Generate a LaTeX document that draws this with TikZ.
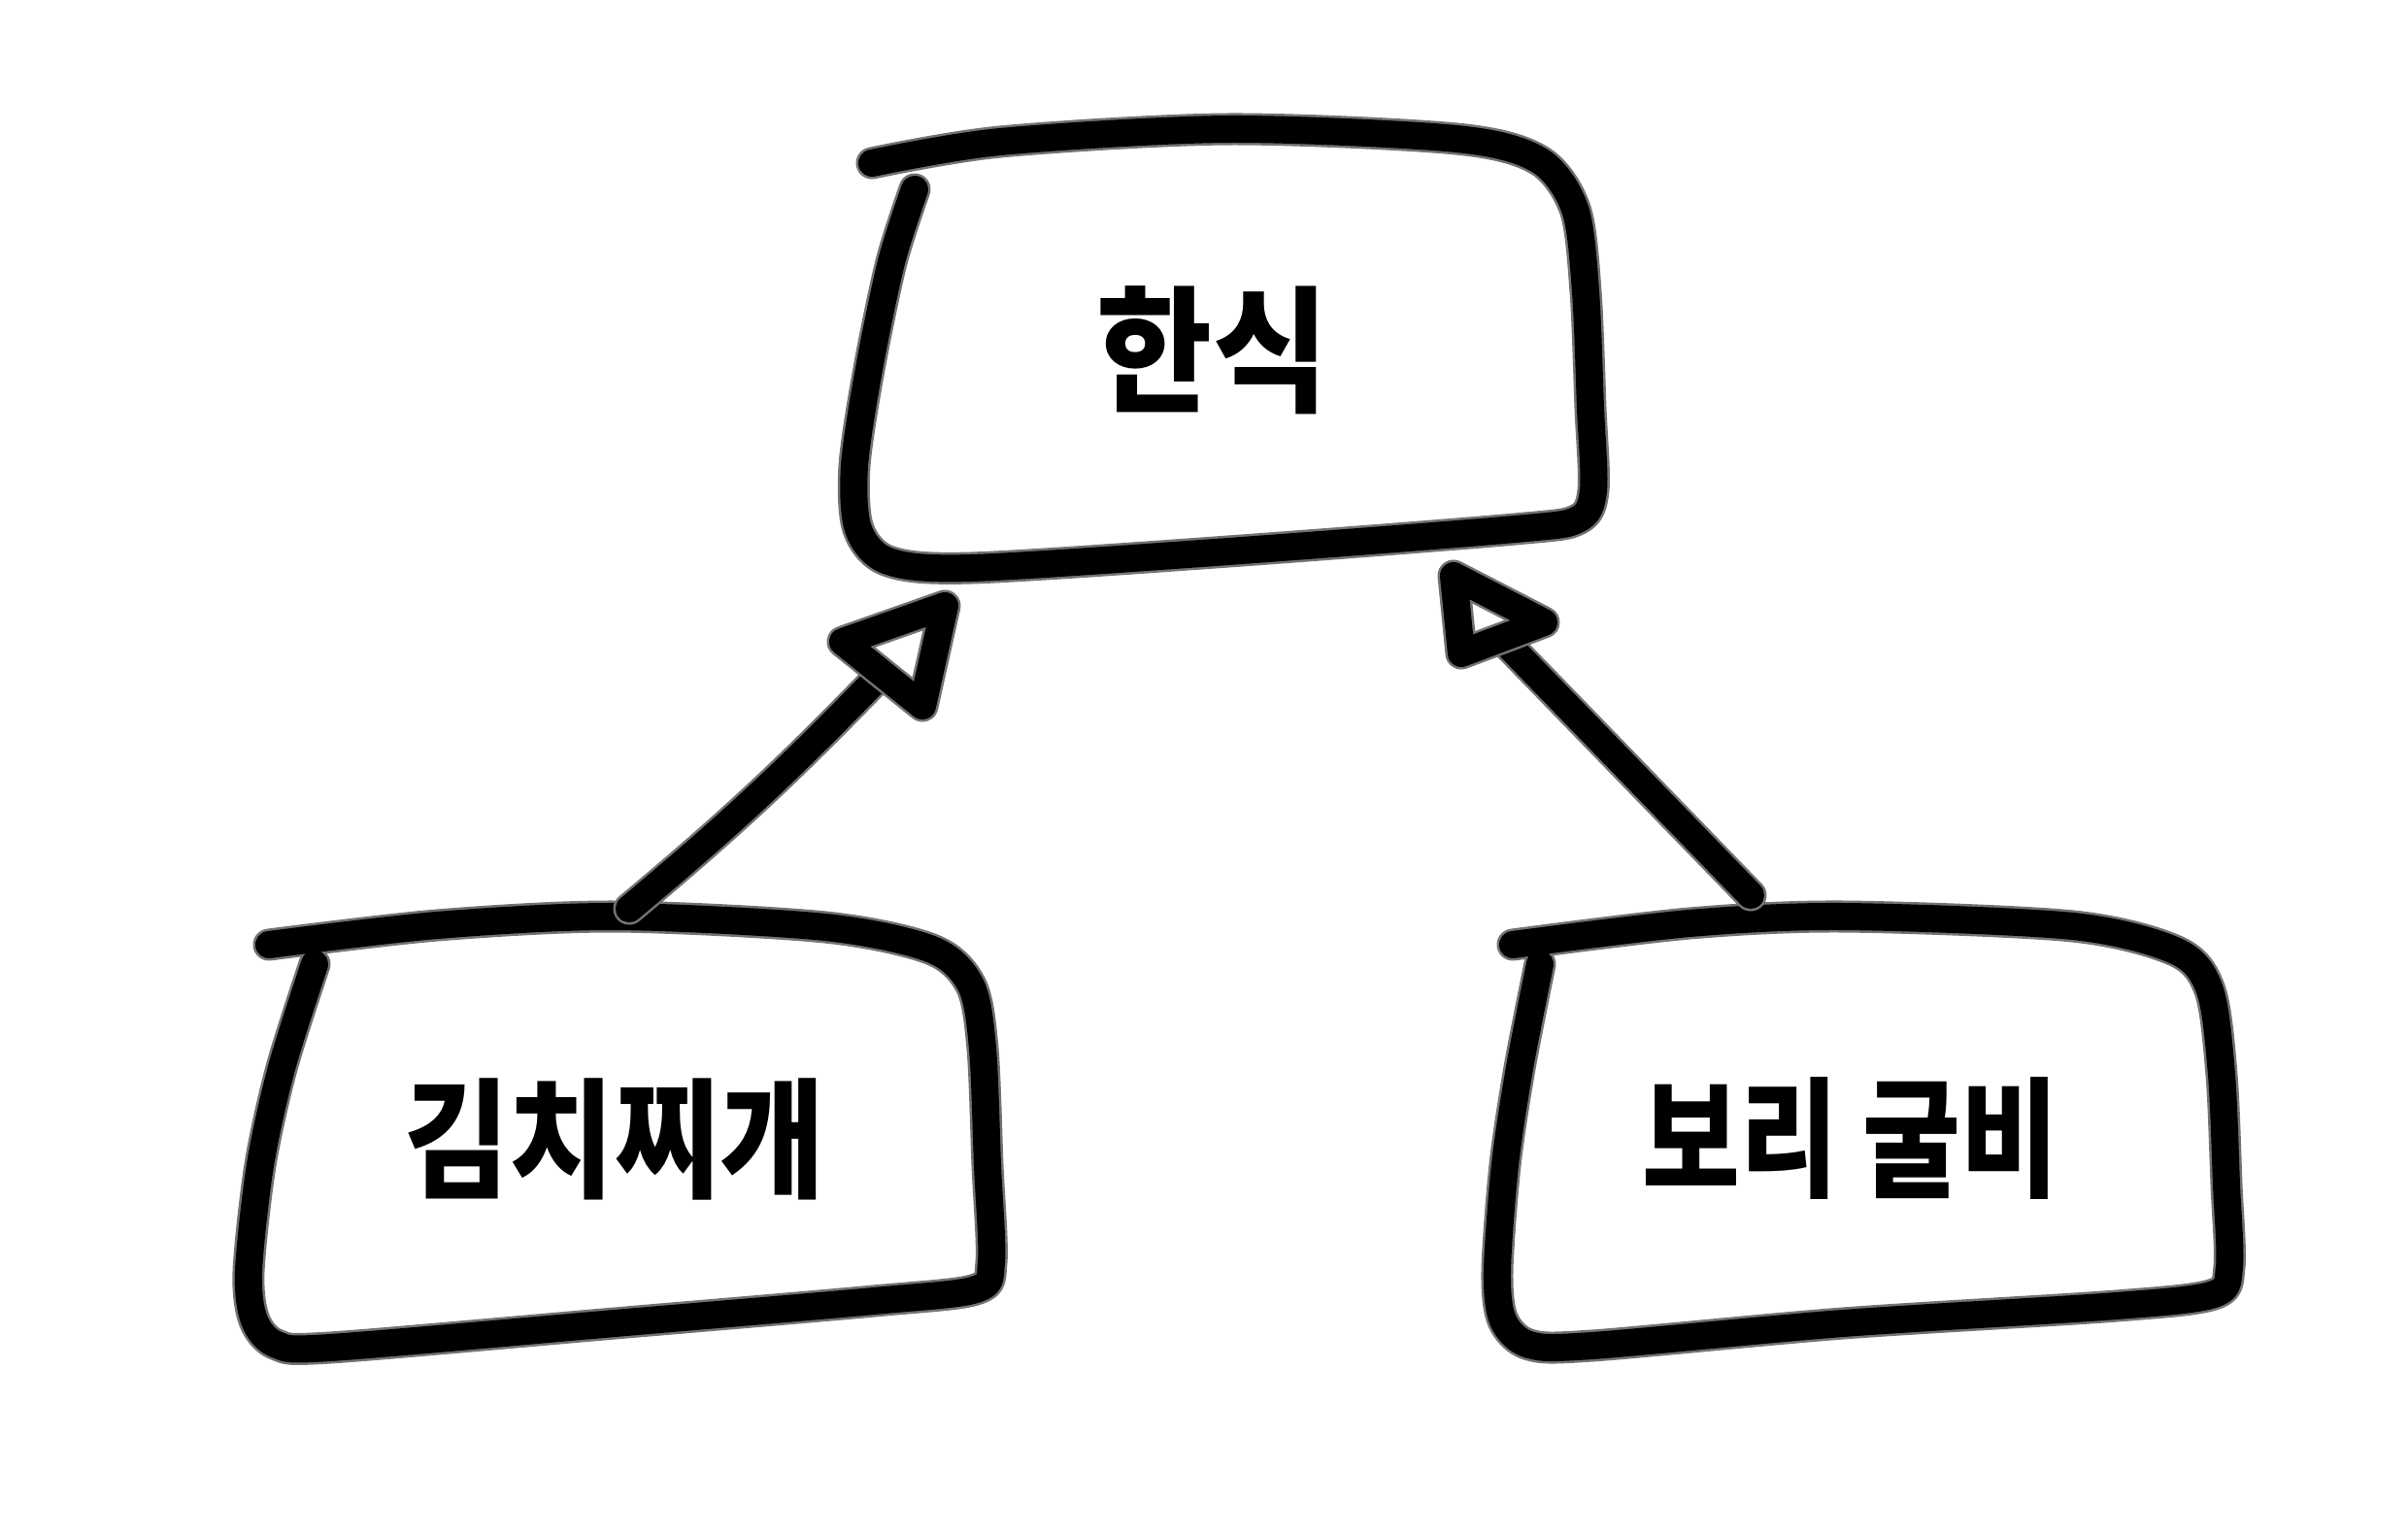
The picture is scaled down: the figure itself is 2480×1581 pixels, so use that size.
\documentclass[tikz,border=0pt]{standalone}
\usepackage{fontspec}
\newfontfamily\kr{Noto Sans CJK KR}
\begin{document}
\begin{tikzpicture}[x=0.01cm,y=-0.01cm,
  crayon/.style={line width=0.28cm, line cap=round, line join=round, draw=black,
    preaction={draw=black!55, line width=0.33cm, line cap=round, line join=round}},
  lbl/.style={font=\kr\bfseries\fontsize{38}{44}\selectfont, inner sep=0pt},
  smoothpath/.style={smooth, tension=0.5}]
\useasboundingbox (0,0) rectangle (2480,1581);
\fill[white] (0,0) rectangle (2480,1581);

% text nodes
\node[lbl, font=\kr\bfseries\fontsize{40}{46}\selectfont, xscale=0.92] (hansik) at (1249,361) {한식};
\node[lbl, xscale=0.88] (kimchi) at (633,1173) {김치찌개};
\node[lbl, xscale=0.82] (gulbi) at (1906,1173) {보리 굴비};

% hand-drawn box outlines
\draw[crayon] plot[smoothpath] coordinates {(898,168) (1030,146) (1265,133) (1500,143) (1585,165) (1622,215) (1633,300) (1638,420) (1641,505) (1625,535) (1560,545) (1265,568) (1000,585) (915,578) (884,545) (880,480) (895,380) (918,270) (942,195)};

\draw[crayon] plot[smoothpath] coordinates {(277,973) (450,953) (633,944) (850,955) (960,978) (1000,1015) (1012,1080) (1017,1200) (1021,1300) (1005,1328) (900,1340) (633,1363) (340,1388) (285,1385) (262,1360) (256,1310) (268,1200) (290,1100) (324,993)};

\draw[crayon] plot[smoothpath] coordinates {(1558,973) (1740,951) (1898,944) (2135,954) (2242,980) (2276,1020) (2288,1107) (2293,1220) (2296,1305) (2280,1333) (2180,1345) (1898,1363) (1640,1386) (1575,1385) (1548,1360) (1542,1310) (1550,1200) (1565,1100) (1586,993)};

% connector end points
\coordinate (k1) at (648,936);
\coordinate (k2) at (905,697);
\coordinate (g1) at (1803,922);
\coordinate (g2) at (1550,661);

% connectors
\draw[crayon] (k1) to[bend right=3] (k2);
\draw[crayon] (g1) -- (g2);

% open triangle heads
\draw[crayon] (868,661) -- (973,624) -- (950,727) -- cycle;
\draw[crayon] (1497,593) -- (1590,641) -- (1505,673) -- cycle;
\end{tikzpicture}
\end{document}
